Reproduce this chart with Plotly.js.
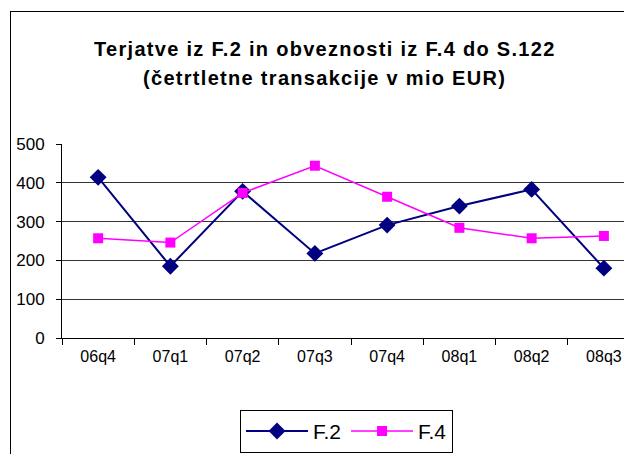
<!DOCTYPE html>
<html>
<head>
<meta charset="utf-8">
<script src="https://cdn.plot.ly/plotly-3.0.1.min.js"></script>
<style>
html,body{margin:0;padding:0;background:#fff;overflow:hidden;width:624px;height:454px;}
#frame{position:absolute;left:10px;top:11px;border:1px solid #000;width:700px;height:500px;}
#chart{width:700px;height:500px;}
.annotation-text{letter-spacing:1.3px;}
</style>
</head>
<body>
<div id="frame"><div id="chart"></div></div>
<script>
const categories = ["06q4","07q1","07q2","07q3","07q4","08q1","08q2","08q3"];
const f2 = [414, 185, 378, 218, 291, 340, 383, 180];
const f4 = [257, 246, 374, 444, 364, 284, 257, 263];
const titleLine1 = "Terjatve iz F.2 in obveznosti iz F.4 do S.122";
const titleLine2 = "(četrtletne transakcije v mio EUR)";

const font = "Liberation Sans, Arial, sans-serif";

const traces = [
  {x: categories, y: f2, name: "F.2", type: "scatter", mode: "lines+markers",
   line: {color: "#000080", width: 2}, marker: {symbol: "diamond", size: 13, color: "#000080"}},
  {x: categories, y: f4, name: "F.4", type: "scatter", mode: "lines+markers",
   line: {color: "#FF00FF", width: 1.5}, marker: {symbol: "square", size: 10, color: "#FF00FF"}}
];

const layout = {
  width: 700, height: 500,
  margin: {l: 51, r: 71, t: 132, b: 174},
  paper_bgcolor: "#fff", plot_bgcolor: "#fff",
  font: {family: font, size: 16, color: "#000"},
  showlegend: true,
  legend: {orientation: "h", x: 0.308, xanchor: "left", y: -0.37, yanchor: "top",
           bordercolor: "#000", borderwidth: 1, font: {size: 21, family: font},
           itemwidth: 62, tracegroupgap: 0},
  xaxis: {type: "category", range: [-0.5, 7.5], showgrid: false, showline: true,
          linecolor: "#000", linewidth: 1, ticks: "outside", tickson: "boundaries",
          ticklen: 6, tickcolor: "#000", tickfont: {size: 16, family: font},
          ticklabelstandoff: 4, fixedrange: true},
  yaxis: {range: [0, 500], dtick: 100, showgrid: true, gridcolor: "#333", gridwidth: 1,
          showline: true, linecolor: "#000", linewidth: 1, ticks: "outside", ticklen: 5,
          tickcolor: "#000", tickfont: {size: 17, family: font}, ticklabelstandoff: 8,
          zeroline: false, fixedrange: true},
  annotations: [
    {text: "<b>" + titleLine1 + "</b>", xref: "paper", yref: "paper", x: 0.455, y: 1.49,
     xanchor: "center", yanchor: "middle", showarrow: false, font: {size: 20, family: font}},
    {text: "<b>" + titleLine2 + "</b>", xref: "paper", yref: "paper", x: 0.455, y: 1.34,
     xanchor: "center", yanchor: "middle", showarrow: false, font: {size: 20, family: font}}
  ]
};

Plotly.newPlot("chart", traces, layout, {displayModeBar: false, staticPlot: true});
</script>
</body>
</html>
